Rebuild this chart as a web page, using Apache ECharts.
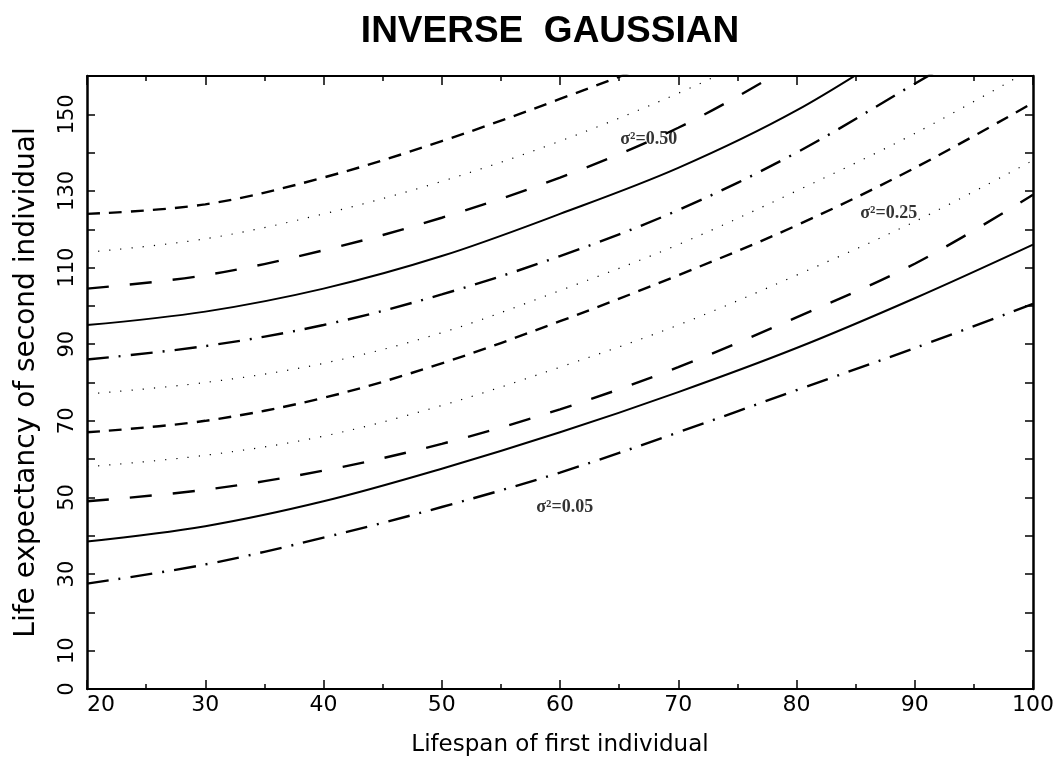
<!DOCTYPE html>
<html>
<head>
<meta charset="utf-8">
<script src="https://cdn.jsdelivr.net/npm/echarts@6/dist/echarts.min.js"></script>
<style>
html,body{margin:0;padding:0;background:#fff;}
#chart{width:1059px;height:773px;}
</style>
</head>
<body>
<div id="chart"></div>
<script>
// ---- data ----
var lifespanFirst = [20, 30, 40, 50, 60, 70, 80, 90, 100];
var curveA = [124, 126.5, 133.5, 143, 154, 166, 180, 195, 210];      // short dash (top)
var curveB = [114, 117.5, 124, 132.5, 143, 155.5, 170, 185, 200];    // dotted
var curveC = [104.5, 108, 114.5, 123, 133.5, 146.5, 163.5, 182, 200];// long dash
var curveD = [95, 98.5, 104.5, 113, 124, 136, 151, 170, 190];        // solid
var curveE = [86, 89.5, 95, 103, 113, 125, 140, 158, 176];           // dash-dot
var curveF = [77, 80, 85, 93, 104, 116, 130, 145, 162];              // dotted
var curveG = [67, 70, 76, 85, 96, 108, 121, 136, 153];               // short dash
var curveH = [58, 61, 66, 74, 84, 95, 108, 122, 138];                // dotted
var curveI = [49, 52, 57, 64, 73, 84, 97, 111, 129];                 // long dash
var curveJ = [38.5, 42.5, 49, 57.5, 67, 77.5, 89, 102, 116];         // solid
var curveK = [27.5, 32.5, 39.5, 47.5, 56.5, 67, 78, 89, 100.5];      // dash-dot (bottom)

var annotationText = ['σ²=0.50', 'σ²=0.25', 'σ²=0.05'];
var annotationX = [67.5, 87.8, 60.4];
var annotationY = [143.4, 124.1, 47.3];

var titleText = 'INVERSE  GAUSSIAN';
var xAxisTitle = 'Lifespan of first individual';
var yAxisTitle = 'Life expectancy of second individual';

// ---- styles ----
var DASH_SHORT = [13, 9];
var DASH_LONG = [22, 21];
var DASH_DOT = [22, 10, 2, 10];
var DOTTED = [1.2, 10];

function pairs(ys) {
  return lifespanFirst.map(function (x, i) { return [x, ys[i]]; });
}
function curve(name, ys, type, width) {
  return {
    name: name, type: 'line', data: pairs(ys), smooth: 0.35,
    symbol: 'none', clip: true, silent: true,
    lineStyle: { color: '#000', width: width, type: type, cap: 'butt' }
  };
}

var labelFont = 'DejaVu Sans';
var chart = echarts.init(document.getElementById('chart'), null, { renderer: 'canvas' });

var commonX = {
  type: 'value', min: 20, max: 100, interval: 10,
  axisLine: { show: true, onZero: false, lineStyle: { color: '#000', width: 2 } },
  axisTick: { show: true, inside: true, length: 9, lineStyle: { color: '#000', width: 1.5 } },
  minorTick: { show: true, splitNumber: 2, length: 5, lineStyle: { color: '#000', width: 1.5 } },
  splitLine: { show: false }
};
var commonY = {
  type: 'value', min: 0, max: 160, interval: 10,
  axisLine: { show: true, onZero: false, lineStyle: { color: '#000', width: 2.5 } },
  axisTick: { show: true, inside: true, length: 8, lineStyle: { color: '#000', width: 1.5 } },
  splitLine: { show: false }
};

var option = {
  backgroundColor: '#fff',
  animation: false,
  title: {
    text: titleText, left: 545, top: 8, textAlign: 'center',
    textStyle: { fontFamily: 'Liberation Sans', fontWeight: 'bold', fontSize: 37, color: '#000' }
  },
  grid: { left: 87, right: 26, top: 76, bottom: 84, containLabel: false },
  xAxis: [
    Object.assign({}, commonX, {
      position: 'bottom',
      name: xAxisTitle, nameLocation: 'middle', nameGap: 45,
      nameTextStyle: { fontFamily: labelFont, fontSize: 23, color: '#000' },
      axisLabel: { show: true, margin: 5, fontFamily: labelFont, fontSize: 22, color: '#000',
                   alignMinLabel: 'left' }
    }),
    Object.assign({}, commonX, { position: 'top', axisLabel: { show: false } })
  ],
  yAxis: [
    Object.assign({}, commonY, {
      position: 'left',
      name: yAxisTitle, nameLocation: 'middle', nameGap: 46,
      nameTextStyle: { fontFamily: labelFont, fontSize: 28, color: '#000' },
      axisLabel: {
        show: true, rotate: 90, margin: 9, fontFamily: labelFont, fontSize: 21, color: '#000',
        formatter: function (v) { return (v === 0 || v % 20 === 10) ? String(v) : ''; }
      }
    }),
    Object.assign({}, commonY, { position: 'right', axisLabel: { show: false } })
  ],
  series: [
    curve('A', curveA, DASH_SHORT, 2.4),
    curve('B', curveB, DOTTED, 1.2),
    curve('C', curveC, DASH_LONG, 2.4),
    curve('D', curveD, 'solid', 2),
    curve('E', curveE, DASH_DOT, 2.4),
    curve('F', curveF, DOTTED, 1.2),
    curve('G', curveG, DASH_SHORT, 2.4),
    curve('H', curveH, DOTTED, 1.2),
    curve('I', curveI, DASH_LONG, 2.4),
    curve('J', curveJ, 'solid', 2),
    curve('K', curveK, DASH_DOT, 2.4),
    {
      name: 'labels', type: 'scatter', symbolSize: 0, silent: true,
      data: annotationX.map(function (x, i) { return { value: [x, annotationY[i]], name: annotationText[i] }; }),
      label: {
        show: true, position: 'inside', formatter: '{b}',
        fontFamily: 'Liberation Serif', fontWeight: 'bold', fontSize: 18, color: '#000'
      }
    }
  ]
};
chart.setOption(option);
</script>
</body>
</html>
